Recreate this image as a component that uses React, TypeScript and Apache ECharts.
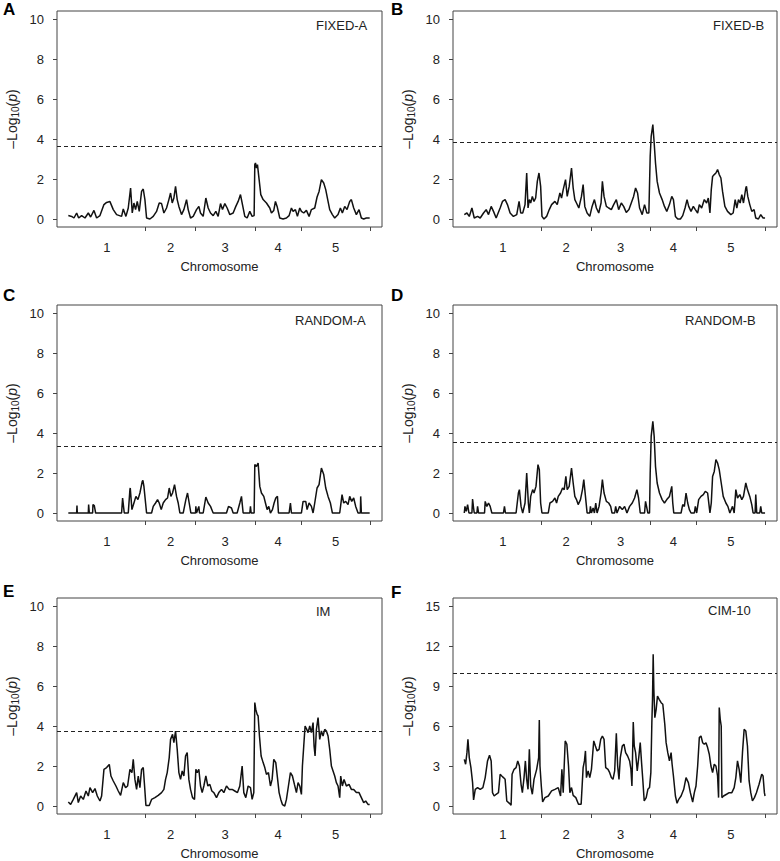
import React, { useEffect, useRef } from 'react';
import * as echarts from 'echarts';

// Chromosome lengths (cM) and labels
const chromLengths = [116, 75, 89, 70, 103];
const chromLabels = ['1', '2', '3', '4', '5'];

// -log10(p) profiles: [cumulative position (cM), value]
const fixedA: [number, number][] = [
  [0,0.17],[5,0.13],[8.5,0.05],[12.5,0.3],[15.5,0.05],[20,0.17],[25,0.05],[30,0.3],[33.5,0.1],[38.5,0.43],[42.5,0.05],[47.5,0.17],
  [53.5,0.72],[57.5,0.83],[62.5,0.87],[67.5,0.47],[72.5,0.22],[80,0.13],[82.5,0.5],[86.5,0.13],[90,0.55],[93.5,1.55],[96,0.3],
  [98.5,0.8],[101,0.47],[103.5,0.88],[106.5,0.38],[110,1.38],[112.5,1.5],[115,0.97],[117.5,0.05],[122.5,0],[127.5,0.13],[132.5,0.38],
  [136.5,0.8],[140,0.77],[143.5,0.3],[147.5,0.55],[151,0.97],[153.5,1.3],[156,0.8],[158.5,1.05],[161,1.63],[163.5,0.97],[166,0.63],
  [170,0.22],[173.5,0.47],[177.5,0.97],[180,0.47],[183.5,0.05],[187.5,0.13],[192.5,0.47],[196,0.63],[198.5,0.3],[202.5,0.13],
  [206.5,1.05],[210,0.55],[213.5,0.3],[217.5,0.17],[221.5,0.38],[225,0.13],[228.5,0.77],[231.5,0.47],[235,0.77],[238.5,0.55],
  [242.5,0.22],[247.5,0.3],[251.5,0.63],[255,0.88],[258.5,1.22],[261.5,0.72],[265,0.13],[268.5,0.05],[272.5,0.38],[276,0.13],
  [279,0.17],[280,2.72],[281,2.8],[282.5,2.55],[284,2.72],[286.5,1.97],[289,1.22],[292.5,0.97],[297.5,0.8],[302.5,0.55],[305,0.3],
  [308.5,0.43],[311,0.88],[313.5,0.63],[317.5,0.05],[322.5,0],[327.5,0.05],[331.5,0.17],[335,0.55],[337.5,0.38],[341,0.47],
  [344,0.13],[347.5,0.55],[350,0.38],[353.5,0.3],[357.5,0.43],[361.5,0.13],[365,0.47],[370,0.55],[373.5,1.1],[376.5,1.38],
  [380,1.97],[383.5,1.8],[386.5,1.47],[390,0.88],[392.5,0.47],[396.5,0.22],[400,0.05],[405,0.22],[408.5,0.55],[411.5,0.3],
  [415,0.63],[418.5,0.47],[422.5,0.88],[425,0.97],[428.5,0.55],[432.5,0.22],[436.5,0.47],[440,0.05],[443.5,0],[447.5,0.05],[452.5,0.05]
];

const fixedB: [number, number][] = [
  [0,0.22],[4,0.3],[7.5,0.13],[11.5,0.55],[15,0.05],[20,0.13],[24,0.05],[29,0.3],[33,0.47],[36.5,0.22],[40.5,0.63],[44,0.38],
  [48,0.05],[54,0.55],[57.5,0.88],[61.5,0.97],[65,0.72],[69,0.3],[74,0.13],[79,0.22],[82.5,0.88],[85,0.3],[88,0.3],[91.5,0.72],
  [94,2.3],[96,0.55],[98,0.97],[100,0.8],[102.5,1.13],[105,0.88],[107.5,1.05],[110,1.88],[112.5,2.3],[115,1.63],[117,0.13],
  [120,0],[124,0.13],[128,0.47],[131.5,0.72],[136.5,0.88],[140,0.72],[144,1.3],[146.5,1.05],[149,1.47],[152.5,1.97],[155,1.13],
  [158,1.63],[161.5,2.55],[164,1.55],[166.5,0.97],[169,0.8],[172.5,0.55],[176.5,1.13],[179,1.72],[181.5,0.63],[185,0.3],
  [189,0.13],[192.5,0.63],[196,0.97],[199,0.55],[202.5,0.3],[206,0.8],[208,1.88],[210.5,1.13],[214,0.63],[217.5,0.55],
  [221.5,0.47],[225,0.72],[229,0.97],[232.5,0.47],[236.5,0.8],[240,0.63],[244,0.33],[248,0.47],[251.5,0.8],[255,1.13],
  [258,1.55],[261,1.3],[264,0.55],[268,0.22],[271.5,0.72],[275,0.3],[278,0.3],[280,3.13],[281.5,4.13],[284,4.72],[286,3.8],
  [288,2.8],[290.5,1.88],[294,1.3],[298,0.97],[301.5,0.63],[305,0.38],[309,0.72],[312.5,1.13],[315,0.97],[318,0.13],[321.5,0],
  [325.5,0],[329,0.17],[332.5,0.55],[335.5,0.97],[338,0.63],[341.5,0.38],[345,0.63],[348,0.47],[351.5,0.3],[354,0.72],
  [357.5,0.55],[361.5,0.97],[365,0.8],[367.5,1.05],[370,0.3],[372,1.47],[374,2.13],[376.5,2.22],[379,2.3],[381.5,2.47],
  [384,2.22],[386.5,2.05],[389,1.38],[392.5,0.63],[396.5,0.38],[401.5,0.22],[405,0.3],[408,0.97],[410.5,0.55],[413,0.97],
  [415.5,0.8],[418,1.22],[420.5,0.8],[424,1.55],[425,1.63],[427,1.13],[430,0.72],[433,0.38],[436.5,0.47],[439,0.05],[443,0],
  [446.5,0.22],[450,0.05],[453,0.05]
];

const randomA: [number, number][] = [
  [0,0],[12.5,0],[13,0.37],[13.5,0],[30,0],[30.5,0.42],[31.5,0],[36.5,0],[37,0.42],[39,0.37],[41,0],[80,0],[81.5,0.75],[84,0],
  [90,0],[92.5,1.17],[93,1.25],[95.5,0.17],[98.5,0.5],[101.5,0.83],[104.5,0.67],[107.5,1.0],[111,1.58],[112,1.63],[113.5,1.33],
  [116,0.5],[117.5,0],[125,0],[127.5,0.33],[131,0.5],[134,0.67],[136.5,0.5],[139.5,0.17],[142.5,0.5],[146,0.67],[149,0.75],
  [151.5,1.25],[154,0.83],[156.5,1.0],[159.5,1.42],[162.5,0.83],[165,0.5],[167.5,0],[172.5,0],[176.5,0.67],[179,1.0],[181.5,0.5],
  [184,0],[191,0],[191.5,0.33],[192.5,0],[196,0.33],[197,0],[202.5,0],[206.5,0.8],[210,0.5],[213.5,0.33],[217.5,0],[237.5,0],
  [240.5,0.33],[245,0.25],[247.5,0],[253.5,0],[257.5,0.5],[260,0.83],[262.5,0],[272.5,0],[273.5,0.33],[274.5,0],[279,0],
  [280,2.42],[282.5,2.33],[285,2.5],[287.5,1.33],[290,1.0],[293.5,0.83],[296,0.5],[298.5,0.17],[301,0.33],[303.5,0],[306.5,0.17],
  [309,0.5],[311.5,0.75],[314,0.83],[315.5,0],[331.5,0],[333.5,0.5],[335,0],[350,0],[352.5,0.58],[356.5,0.58],[358.5,0.17],
  [361.5,0.5],[365,0.33],[367.5,0],[370,0.5],[373.5,1.25],[376.5,1.42],[380,2.25],[383.5,1.92],[386.5,1.25],[390,0.83],
  [393.5,0.5],[396.5,0],[407.5,0],[411,0.92],[413.5,0.5],[416.5,0.58],[420,0.42],[422.5,0.83],[425.5,0.58],[428.5,0.75],
  [431.5,0.33],[435,0],[438.5,0],[439,0.83],[440,0],[452.5,0]
];

const randomB: [number, number][] = [
  [0,0],[1,0.33],[3,0.08],[5,0.42],[7,0],[11.5,0],[12.5,0.7],[14,0.25],[15,0],[19,0],[20,0.33],[21.5,0],[30.5,0],[31.5,0.58],
  [34,0.33],[36.5,0.5],[39,0.33],[41.5,0],[59,0],[60.5,0.33],[62,0],[78,0],[81.5,1.0],[83,1.17],[85.5,0.33],[88,0],[91.5,0.5],
  [94,2.0],[96.5,0.5],[98,0],[100,0.83],[103,1.17],[105,1.0],[108,1.33],[111,2.42],[113,2.17],[115,0.5],[117,0],[126.5,0],
  [129,0.5],[133,0.58],[136.5,0.75],[139,0.5],[141.5,0.83],[145,1.0],[148,1.25],[150.5,1.17],[153,1.83],[155,1.17],[158,1.33],
  [161.5,2.25],[164,1.5],[166.5,0.83],[169,0.67],[171.5,0.42],[175,0.67],[178,1.17],[180,1.67],[182.5,0.83],[185,0],[189,0],
  [190,0.33],[191.5,0],[194,0.25],[196,0],[198,0.5],[200,0],[203,0.33],[206,1.0],[208,1.67],[210.5,1.0],[214,0.58],[217.5,0.5],
  [220.5,0.33],[222.5,0],[226.5,0],[228,0.33],[230,0],[234,0.33],[238,0.17],[241.5,0.33],[245,0],[249,0.33],[253,0.5],
  [256.5,0.75],[260,1.17],[262.5,0.75],[265,0],[271.5,0],[273,0.58],[276.5,0],[279,0],[280,2.0],[281.5,3.83],[284,4.58],
  [286,3.83],[288,2.33],[290.5,1.5],[294,1.0],[298,0.67],[301.5,0.5],[305,0.67],[309,0.83],[312.5,1.33],[314,0.5],[315.5,0],
  [326.5,0],[329,0.42],[331.5,0.33],[334,1.0],[336.5,0.5],[339,0.17],[341.5,0],[346.5,0],[348,0.33],[350,0],[353,0.67],
  [356.5,0.83],[360,0.92],[363,1.08],[366.5,1.0],[370,0],[372,0.5],[374,1.83],[376.5,2.08],[379,2.67],[381.5,2.5],[384,2.17],
  [387,1.5],[390,0.83],[394,0.5],[397,0.33],[400,0],[404,0.33],[406.5,0],[409,1.17],[411.5,0.75],[415,0.92],[418,0.67],
  [420.5,0.83],[424,1.5],[426.5,1.17],[430,0.83],[433,0.42],[435,0],[438,0],[439,0.92],[440.5,0],[445,0],[446.5,0.33],[448,0],[453,0]
];

const imScan: [number, number][] = [
  [0,0.2],[3.5,0.08],[7.5,0.33],[12.5,0.67],[15,0.17],[18.5,0.5],[22.5,0.33],[26.5,0.75],[30,0.5],[32.5,0.92],[36.5,0.67],
  [40,0.87],[43.5,0.5],[47.5,0.25],[50,0.5],[53.5,1.83],[57.5,1.92],[61.5,2.08],[64,1.5],[67.5,1.25],[71.5,1.0],[75,0.75],
  [78.5,0.53],[82.5,1.17],[86,0.92],[89,1.0],[92.5,1.83],[95.5,1.67],[97.5,2.33],[100,1.33],[102.5,0.83],[105,1.5],[107.5,0.92],
  [110,1.83],[112.5,1.92],[114.5,1.0],[116.5,0.03],[121.5,0.03],[125,0.33],[130,0.42],[135,0.53],[140,0.67],[143.5,0.83],
  [146,1.33],[148.5,1.67],[151.5,2.42],[153.5,3.33],[156.5,3.58],[158.5,3.17],[161,3.75],[163.5,2.83],[166,1.67],[168.5,1.33],
  [171,1.75],[173.5,1.5],[176,2.5],[178.5,2.67],[181,1.33],[183.5,0.83],[186.5,0.42],[189.5,0.33],[191.5,1.83],[193.5,1.67],
  [196,1.83],[198.5,1.0],[201,0.67],[203.5,1.0],[206.5,1.5],[209.5,1.0],[212.5,1.08],[215.5,0.75],[218.5,0.67],[222.5,0.42],
  [226,0.67],[230,0.83],[233.5,0.67],[237.5,1.0],[241.5,0.83],[246,0.83],[250,0.75],[254,0.67],[257.5,1.0],[261,2.0],
  [263.5,0.67],[266.5,0.42],[270,1.0],[273.5,0.92],[276,0.33],[278.5,0.67],[280,5.17],[281.5,4.83],[283.5,4.58],[285,4.5],
  [287,3.5],[289.5,2.5],[292.5,2.17],[295,1.92],[297.5,1.58],[300.5,1.67],[303.5,1.0],[306,1.33],[308.5,2.33],[311.5,2.17],
  [314,1.42],[316.5,0.67],[319,0.33],[321.5,0.07],[325,0],[327.5,0.33],[330.5,1.0],[333.5,1.67],[336.5,1.5],[339.5,1.08],
  [342.5,0.67],[345,1.17],[347.5,1.0],[350,0.58],[351.5,2.0],[353.5,3.0],[355.5,4.0],[358,3.83],[360,3.67],[362.5,4.0],
  [365,3.67],[367.5,4.17],[369,3.0],[370.5,2.5],[372.5,3.83],[375,4.42],[377.5,3.33],[380,3.75],[382.5,3.5],[385,3.83],
  [387.5,3.75],[390,3.5],[392.5,2.83],[395,2.0],[397.5,1.75],[400,1.5],[402.5,1.17],[405,1.0],[407.5,0.42],[409,1.5],
  [411.5,1.0],[414,1.33],[417.5,1.0],[421.5,1.08],[425,0.83],[428.5,0.83],[432.5,0.67],[436.5,0.67],[440,0.42],[443.5,0.17],
  [446.5,0.25],[450,0.08],[452.5,0.07]
];

const cim10: [number, number][] = [
  [0,3.5],[2,3.13],[4,4.0],[5.5,5.0],[7.5,3.63],[10,2.88],[12.5,1.75],[14,0.45],[16.5,1.25],[20,1.38],[24,1.25],[28,1.38],
  [31.5,2.13],[35,3.38],[38,3.8],[40.5,3.38],[42.5,1.0],[45,0.75],[48,0.88],[51.5,1.0],[54,2.38],[56.5,2.25],[59,2.13],
  [61.5,2.0],[64,0.38],[68,0.2],[70.5,0.05],[72,2.38],[75,2.75],[78,2.88],[80.5,3.38],[83,3.0],[85.5,1.63],[87.5,1.0],
  [90,2.13],[92,3.38],[94,2.0],[96,1.25],[98,4.25],[100,1.5],[102.5,0.88],[105,2.0],[109,2.75],[112,3.63],[113,6.45],[114,3.0],
  [116,1.5],[118,0.3],[121.5,0.63],[126.5,0.75],[131.5,1.13],[136.5,1.25],[141.5,1.38],[145,0.75],[147,2.75],[149,1.0],
  [150.5,3.0],[152,4.88],[154.5,4.63],[157,3.0],[159,1.0],[161.5,1.38],[164,0.8],[168,0.63],[172,0.13],[176,0.13],[179,2.88],
  [181,3.38],[182.5,4.13],[184,2.13],[186.5,2.63],[189,2.13],[191.5,2.75],[195,4.88],[197.5,4.5],[200,4.13],[203,4.25],
  [205.5,5.0],[208,5.25],[210.5,5.0],[213,2.88],[216.5,2.75],[219,2.5],[221.5,2.13],[224,2.0],[226.5,2.63],[229,5.45],
  [231,3.0],[233,2.0],[235,3.63],[238,4.5],[240.5,4.63],[243,4.0],[246,3.75],[249,3.38],[251,2.75],[252.5,1.5],[254.5,6.3],
  [256,4.5],[258,4.0],[260.5,2.63],[263,3.75],[265,4.75],[267,3.25],[269,1.88],[271,0.38],[274,0.63],[276.5,1.25],[279,1.38],
  [281,2.5],[282.5,6.25],[283.5,8.0],[284.5,11.38],[285.5,8.75],[287,6.63],[289,7.25],[291,8.25],[293.5,8.0],[296.5,7.75],
  [299,7.63],[302,6.13],[304,4.75],[306.5,4.0],[309,3.38],[311.5,4.0],[313,3.13],[315,2.25],[318,0.75],[320.5,0.2],[323,0.5],
  [326.5,0.75],[330.5,1.25],[334,2.13],[337.5,1.75],[340.5,1.0],[344,0.3],[346.5,1.0],[349,1.5],[351.5,3.0],[354,5.13],
  [356.5,5.25],[359,4.75],[361.5,4.63],[364,4.75],[366.5,4.38],[369,3.88],[371.5,3.0],[374,2.5],[376.5,3.13],[379,3.0],
  [381.5,2.25],[383,0.63],[384,7.38],[385.5,6.5],[387,6.0],[388,0.63],[390.5,0.75],[395,0.88],[399,1.0],[403,1.0],[406.5,1.38],
  [409,2.13],[411.5,3.38],[414,2.75],[416.5,1.75],[419,4.0],[421.5,5.75],[424,5.63],[426.5,4.5],[429,1.88],[431.5,1.0],
  [434,0.38],[437,0.63],[440,1.0],[444,1.63],[448,2.38],[450,2.25],[452,1.0],[453,0.75]
];

// Significance thresholds
const thresholds = [3.64, 3.86, 3.33, 3.53, 3.73, 9.93];
const panelLetters = ['A', 'B', 'C', 'D', 'E', 'F'];
const panelTitles = ['FIXED-A', 'FIXED-B', 'RANDOM-A', 'RANDOM-B', 'IM', 'CIM-10'];
const panelSeries = [fixedA, fixedB, randomA, randomB, imScan, cim10];
const yTicks10 = [0, 2, 4, 6, 8, 10];
const yTicks15 = [0, 3, 6, 9, 12, 15];

const FONT = '"Liberation Sans", Arial, Helvetica, sans-serif';

// layout (pixels)
const boxes = [
  { left: 57, top: 11, width: 325, lx: 3, ly: 10, tx: 316, ty: 27 },
  { left: 453, top: 11, width: 324, lx: 391, ly: 10, tx: 713, ty: 27 },
  { left: 57, top: 305, width: 325, lx: 3, ly: 296, tx: 295, ty: 322 },
  { left: 453, top: 305, width: 324, lx: 391, ly: 296, tx: 685, ty: 322 },
  { left: 57, top: 598, width: 325, lx: 3, ly: 592, tx: 316, ty: 613 },
  { left: 453, top: 598, width: 324, lx: 391, ly: 593, tx: 708, ty: 612 },
];
const BOX_H = 216;

export default function App() {
  const ref = useRef<HTMLDivElement>(null);
  useEffect(() => {
    if (!ref.current) return;
    const chart = echarts.init(ref.current, undefined, { renderer: 'svg' });

    const bounds: number[] = [];
    const centers: number[] = [];
    let acc = 0;
    chromLengths.forEach((l) => {
      centers.push(acc + l / 2);
      acc += l;
      bounds.push(acc);
    });
    const total = acc;

    const grids: any[] = [];
    const xAxes: any[] = [];
    const yAxes: any[] = [];
    const series: any[] = [];
    const graphics: any[] = [];

    panelSeries.forEach((data, i) => {
      const b = boxes[i];
      const isF = i === 5;
      const yMax = isF ? 15 : 10;
      const ticks = isF ? yTicks15 : yTicks10;
      grids.push({
        left: b.left, top: b.top, width: b.width, height: BOX_H,
        show: true, borderColor: '#444', borderWidth: 1, backgroundColor: 'transparent',
      });
      xAxes.push({
        type: 'value', gridIndex: i, min: -17, max: total + 18,
        axisLine: { show: false, onZero: false },
        splitLine: { show: false },
        axisTick: { show: true, customValues: bounds, length: 4, lineStyle: { color: '#444' } },
        axisLabel: {
          customValues: centers, margin: 14, fontSize: 13, color: '#222', fontFamily: FONT,
          formatter: (v: number) => {
            const k = centers.findIndex((c) => Math.abs(c - v) < 0.01);
            return k >= 0 ? chromLabels[k] : '';
          },
        },
        name: 'Chromosome', nameLocation: 'middle', nameGap: 33,
        nameTextStyle: { fontSize: 13, color: '#222', fontFamily: FONT },
      });
      yAxes.push({
        type: 'value', gridIndex: i, min: -yMax * 0.04, max: yMax * 1.04,
        axisLine: { show: false, onZero: false },
        splitLine: { show: false },
        axisTick: { show: true, customValues: ticks, length: 4, lineStyle: { color: '#444' } },
        axisLabel: { customValues: ticks, margin: 13, fontSize: 13, color: '#222', fontFamily: FONT },
        name: '{a|–Log}{s|10}{a|(}{i|p}{a|)}',
        nameLocation: 'middle', nameGap: 37, nameRotate: 90,
        nameTextStyle: {
          fontSize: 14, color: '#222', fontFamily: FONT,
          rich: {
            a: { fontSize: 14, color: '#222', fontFamily: FONT, lineHeight: 17, verticalAlign: 'middle' },
            s: { fontSize: 10, color: '#222', fontFamily: FONT, lineHeight: 17, verticalAlign: 'bottom', padding: [6, 0, 0, 0] },
            i: { fontSize: 14, color: '#222', fontFamily: FONT, fontStyle: 'italic', lineHeight: 17, verticalAlign: 'middle' },
          },
        },
      });
      series.push({
        type: 'line', xAxisIndex: i, yAxisIndex: i, data, showSymbol: false, symbol: 'none',
        lineStyle: { color: '#111', width: 1.5 }, silent: true,
        markLine: {
          silent: true, symbol: ['none', 'none'], label: { show: false },
          lineStyle: { type: [4, 3], color: '#222', width: 1 },
          data: [{ yAxis: thresholds[i] }],
        },
      });
      graphics.push({
        type: 'text', left: b.lx, top: b.ly - 9,
        style: { text: panelLetters[i], fontSize: 17, fontWeight: 'bold', fill: '#000', fontFamily: FONT },
      });
      graphics.push({
        type: 'text', left: b.tx, top: b.ty - 8,
        style: { text: panelTitles[i], fontSize: 13, fill: '#222', fontFamily: FONT },
      });
    });

    chart.setOption({
      animation: false,
      backgroundColor: '#fff',
      grid: grids,
      xAxis: xAxes,
      yAxis: yAxes,
      series,
      graphic: graphics,
    });
    return () => chart.dispose();
  }, []);

  return (
    <div
      ref={ref}
      style={{ position: 'absolute', left: 0, top: 0, width: 780, height: 861 }}
    />
  );
}
